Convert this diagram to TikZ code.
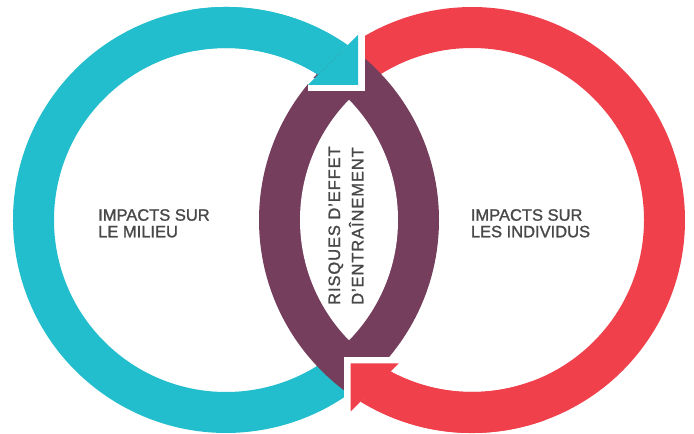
\documentclass[tikz,border=0pt]{standalone}
\usepackage{fontspec}
\setmainfont[FakeBold=1.3]{Liberation Sans}
\newfontfamily\spacedfont[LetterSpace=5.5,FakeBold=1.3]{Liberation Sans}
\definecolor{ringteal}{RGB}{35,190,205}
\definecolor{ringred}{RGB}{239,64,76}
\definecolor{lenspurple}{RGB}{116,62,92}
\definecolor{labelgray}{RGB}{72,72,72}
\tikzset{
  labeltext/.style={text=labelgray, inner sep=0pt, anchor=base west, font=\fontsize{16.5}{17}\selectfont},
  vlabeltext/.style={text=labelgray, inner sep=0pt, anchor=base west, rotate=90, font=\fontsize{16.5}{17}\spacedfont},
  gapline/.style={white, line width=13pt, line join=miter, line cap=butt}
}
\begin{document}
\begin{tikzpicture}[x=1pt,y=1pt]
\useasboundingbox (0,0) rectangle (694,434);
\coordinate (tc) at (226,214);
\coordinate (rc) at (472,214);
% teal ring (main)
\fill[ringteal] (347.77,388.77) arc[start angle=55.13, end angle=315, radius=213pt]
  -- (347.62,92.38) arc[start angle=315, end angle=57.59, radius=172pt] -- cycle;
% red ring (main)
\fill[ringred] (360.5,32.5) arc[start angle=238.44, end angle=495, radius=213pt]
  -- (350.38,335.62) arc[start angle=495, end angle=241.72, radius=172pt] -- cycle;
% purple lens
\begin{scope}
  \clip (tc) circle[radius=213pt];
  \fill[lenspurple] (rc) circle[radius=213pt];
\end{scope}
\begin{scope}
  \clip (tc) circle[radius=172pt];
  \fill[white] (rc) circle[radius=172pt];
\end{scope}
% teal arrow (top)
\coordinate (ttip) at (358,349);
\coordinate (twa) at (358,399);
\coordinate (twb) at (308,349);
\draw[gapline] (twa) -- (ttip) -- (twb);
\fill[ringteal] (347.77,388.77) arc[start angle=55.13, end angle=100, radius=213pt]
  -- (196.13,383.39) arc[start angle=100, end angle=57.59, radius=172pt] -- cycle;
\fill[ringteal] (twa) -- (ttip) -- (twb) -- cycle;
% red arrow (bottom)
\coordinate (rtip) at (350.7,70.7);
\coordinate (rwa) at (350.7,22.7);
\coordinate (rwb) at (398.7,70.7);
\draw[gapline] (rwa) -- (rtip) -- (rwb);
\fill[ringred] (360.5,32.5) arc[start angle=238.44, end angle=290, radius=213pt]
  -- (530.83,52.37) arc[start angle=290, end angle=241.72, radius=172pt] -- cycle;
\fill[ringred] (rwa) -- (rtip) -- (rwb) -- cycle;
% labels
\node[labeltext] (l1) at (98,213.3) {IMPACTS SUR};
\node[labeltext] (l2) at (98,196.7) {LE MILIEU};
\node[labeltext] (r1) at (470.7,213.3) {IMPACTS SUR};
\node[labeltext] (r2) at (470.7,196.7) {LES INDIVIDUS};
\node[vlabeltext] (m1) at (340,129) {RISQUES D’EFFET};
\node[vlabeltext] (m2) at (363.3,129) {D’ENTRAÎNEMENT};
\end{tikzpicture}
\end{document}
